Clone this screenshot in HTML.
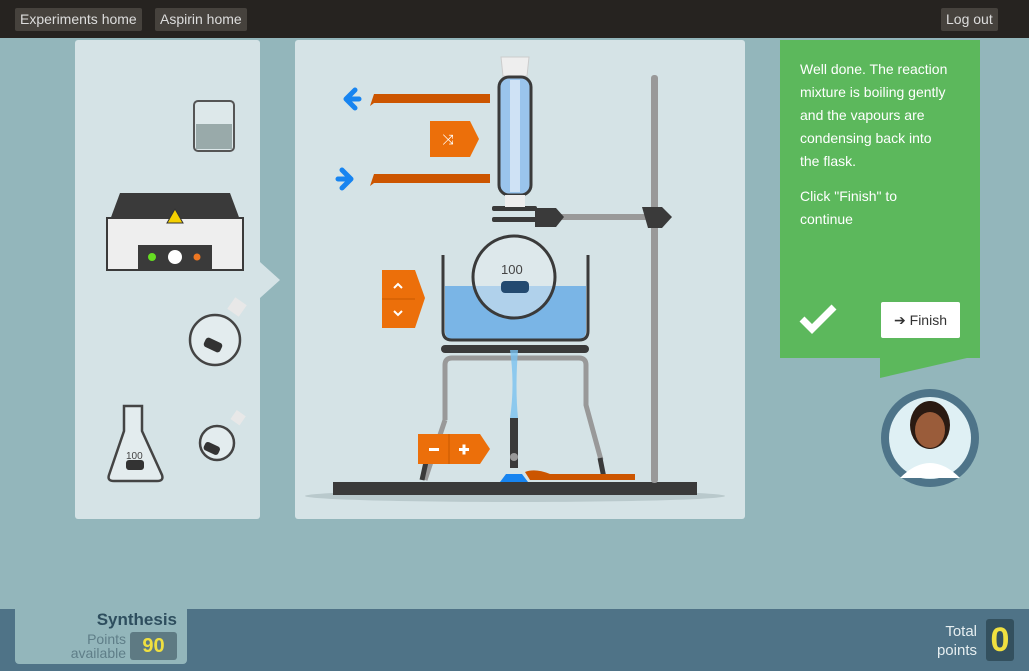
<!DOCTYPE html>
<html><head><meta charset="utf-8"><style>
*{margin:0;padding:0;box-sizing:border-box}
body{width:1029px;height:671px;overflow:hidden;background:#93b6bb;font-family:"Liberation Sans",sans-serif;position:relative}
.top{position:absolute;left:0;top:0;width:1029px;height:38px;background:#262320}
.tb{position:absolute;top:8px;height:23px;background:#46423d;color:#ddd;font-size:14px;line-height:23px;padding:0 5px;border-radius:2px}
.panel{position:absolute;background:#d5e3e6;border-radius:3px}
.bottom{position:absolute;left:0;top:609px;width:1029px;height:62px;background:#4f7387}
.green{position:absolute;left:780px;top:40px;width:200px;height:318px;background:#5cb85c;color:#fff;font-size:14px;line-height:23px;padding:18px 10px 18px 20px;white-space:nowrap}
</style></head><body>
<div class="top"></div>
<div class="tb" style="left:15px">Experiments home</div>
<div class="tb" style="left:155px">Aspirin home</div>
<div class="tb" style="left:941px">Log out</div>
<div class="panel" style="left:75px;top:40px;width:185px;height:479px"></div>
<div class="panel" style="left:295px;top:40px;width:450px;height:479px"></div>
<div class="green">Well done. The reaction<br>mixture is boiling gently<br>and the vapours are<br>condensing back into<br>the flask.<div style="margin-top:12px">Click "Finish" to<br>continue</div></div>
<div style="position:absolute;left:881px;top:302px;width:79px;height:36px;background:#fff;border-radius:2px;color:#333;font-size:14px;line-height:36px;text-align:center">➔ Finish</div>
<div class="bottom"></div>
<div style="position:absolute;left:15px;top:608px;width:172px;height:56px;background:#93b6bb;border-radius:0 0 4px 4px"></div>
<div style="position:absolute;left:30px;top:610px;width:147px;text-align:right;color:#2e4e5e;font-weight:bold;font-size:17px">Synthesis</div>
<div style="position:absolute;left:40px;top:632px;width:86px;text-align:right;color:#5f7e88;font-size:14px;line-height:14px">Points<br>available</div>
<div style="position:absolute;left:130px;top:632px;width:47px;height:28px;background:#5e7a83;border-radius:3px;color:#f0e040;font-weight:bold;font-size:20px;line-height:28px;text-align:center">90</div>
<div style="position:absolute;left:920px;top:622px;width:57px;text-align:right;color:#e6eef0;font-size:15px;line-height:19px">Total<br>points</div>
<div style="position:absolute;left:986px;top:619px;width:28px;height:42px;background:#33505e;border-radius:3px;color:#f0e040;font-weight:bold;font-size:34px;line-height:42px;text-align:center">0</div>
<svg width="1029" height="671" style="position:absolute;left:0;top:0">
<polygon points="260,262 280,280 260,298" fill="#d5e3e6"/>
<polygon points="980,355 880,355 880,378" fill="#5cb85c"/>
<path d="M802,319 l10,10 l22,-22" stroke="#fff" stroke-width="7" fill="none"/>
<circle cx="930" cy="438" r="49" fill="#4e7489"/>
<circle cx="930" cy="438" r="41" fill="#dff0f4"/>
<ellipse cx="930" cy="425" rx="20" ry="24" fill="#2a1a12"/>
<ellipse cx="930" cy="430" rx="15" ry="18" fill="#9a5c3a"/>
<path d="M900,478 q30,-30 60,0" fill="#fff"/>
<rect x="194" y="101" width="40" height="50" rx="4" fill="#dde8ea" stroke="#555" stroke-width="2"/>
<rect x="196" y="124" width="36" height="25" fill="#9aa"/>
<polygon points="120,193 230,193 243,228 107,228" fill="#3a3a3a"/>
<rect x="107" y="218" width="136" height="52" fill="#eee" stroke="#3a3a3a" stroke-width="2"/>
<rect x="138" y="245" width="74" height="24" fill="#3a3a3a"/>
<circle cx="152" cy="257" r="4" fill="#6d2"/><circle cx="175" cy="257" r="7" fill="#fff"/><circle cx="197" cy="257" r="3.5" fill="#e72"/>
<polygon points="175,209 167,223 183,223" fill="#f5d000" stroke="#333"/>
<circle cx="215" cy="340" r="25" fill="#e3ecee" stroke="#444" stroke-width="2.5"/>
<rect x="230" y="300" width="14" height="14" fill="#e8e8e8" transform="rotate(35 237 307)"/>
<rect x="204" y="340" width="18" height="10" rx="3" fill="#333" transform="rotate(25 213 345)"/>
<circle cx="217" cy="443" r="17" fill="#e3ecee" stroke="#444" stroke-width="2.5"/>
<rect x="233" y="412" width="11" height="11" fill="#e8e8e8" transform="rotate(35 238 417)"/>
<rect x="204" y="444" width="16" height="9" rx="3" fill="#333" transform="rotate(25 212 448)"/>
<path d="M124,406 h18 v25 l20,44 q2,6 -5,6 h-43 q-7,0 -5,-6 l15,-44 z" fill="#e3ecee" stroke="#444" stroke-width="2.5"/>
<rect x="126" y="460" width="18" height="10" rx="3" fill="#333"/>
<text x="126" y="459" font-size="10" fill="#444">100</text>
<ellipse cx="515" cy="496" rx="210" ry="6" fill="#b9c9cc"/>
<rect x="333" y="482" width="364" height="13" fill="#3a3a3a"/>
<rect x="651" y="75" width="7" height="408" rx="3" fill="#999"/>
<rect x="540" y="214" width="112" height="6" fill="#999"/>
<polygon points="642,207 662,207 672,217 662,228 648,228" fill="#3a3a3a"/>
<polygon points="535,208 556,208 564,217 556,227 535,227" fill="#3a3a3a"/>
<rect x="492" y="206" width="45" height="5" rx="2" fill="#3a3a3a"/><rect x="492" y="217" width="45" height="5" rx="2" fill="#3a3a3a"/>
<polygon points="501,57 529,57 527,76 503,76" fill="#eee" stroke="#ccc"/>
<rect x="499" y="77" width="32" height="118" rx="10" fill="#9ac4ec" stroke="#3a3a3a" stroke-width="3"/>
<rect x="510" y="80" width="10" height="112" fill="#cfe2f5"/>
<rect x="505" y="195" width="20" height="12" fill="#eee"/>
<path d="M374,94 h116 v9 h-116 l-4,3 z" fill="#cc5500"/>
<path d="M374,174 h116 v9 h-116 l-4,3 z" fill="#cc5500"/>
<path d="M347,99 H359 M355,90 L346,99 L355,108" stroke="#1784f0" stroke-width="5" stroke-linecap="round" stroke-linejoin="round" fill="none"/>
<path d="M338,179 H350 M342,170 L351,179 L342,188" stroke="#1784f0" stroke-width="5" stroke-linecap="round" stroke-linejoin="round" fill="none"/>
<polygon points="430,121 470,121 479,139 470,157 430,157" fill="#ec6f0a"/>
<text x="448" y="144" font-size="14" fill="#fff" text-anchor="middle">⤨</text>
<polygon points="382,270 415,270 425,298 415,328 382,328" fill="#ec6f0a"/>
<line x1="382" y1="299" x2="415" y2="299" stroke="#c85a00"/>
<path d="M394,288 l4,-4 l4,4 M394,311 l4,4 l4,-4" stroke="#fff" stroke-width="2" fill="none"/>
<path d="M445,286 h141 v45 q0,8 -8,8 h-125 q-8,0 -8,-8 z" fill="#7ab5e6"/>
<path d="M443,255 v76 q0,9 9,9 h127 q9,0 9,-9 v-76" fill="none" stroke="#3a3a3a" stroke-width="3"/>
<circle cx="514" cy="277" r="41" fill="rgba(230,238,240,0.5)" stroke="#3a3a3a" stroke-width="3"/>
<text x="501" y="274" font-size="13" fill="#444">100</text>
<rect x="501" y="281" width="28" height="12" rx="4" fill="#234a70"/>
<rect x="441" y="345" width="148" height="8" rx="4" fill="#3a3a3a"/>
<path d="M445,420 v-55 q0,-7 7,-7 h127 q7,0 7,7 v40 l15,55" fill="none" stroke="#999" stroke-width="5"/>
<path d="M445,420 l-20,60" stroke="#999" stroke-width="5"/>
<path d="M426,462 l-4,18 M600,458 l4,20" stroke="#3a3a3a" stroke-width="5"/>
<path d="M510,350 q5,35 0,68 h8 q-3,-30 0,-68 z" fill="#7bc2f0" opacity="0.8"/>
<rect x="510" y="418" width="8" height="50" fill="#3a3a3a"/>
<circle cx="514" cy="457" r="4" fill="#999"/>
<path d="M500,482 l6,-8 h16 l6,8 z" fill="#1784f0"/>
<path d="M525,472 q10,-4 25,2 h85 v6 h-105 z" fill="#cc5500"/>
<polygon points="418,434 480,434 490,449 480,464 418,464" fill="#ec6f0a"/>
<line x1="449" y1="434" x2="449" y2="464" stroke="#c85a00"/>
<rect x="429" y="448" width="10" height="3" fill="#fff"/>
<rect x="459" y="448" width="10" height="3" fill="#fff"/><rect x="462.5" y="444.5" width="3" height="10" fill="#fff"/>
</svg>
</body></html>
